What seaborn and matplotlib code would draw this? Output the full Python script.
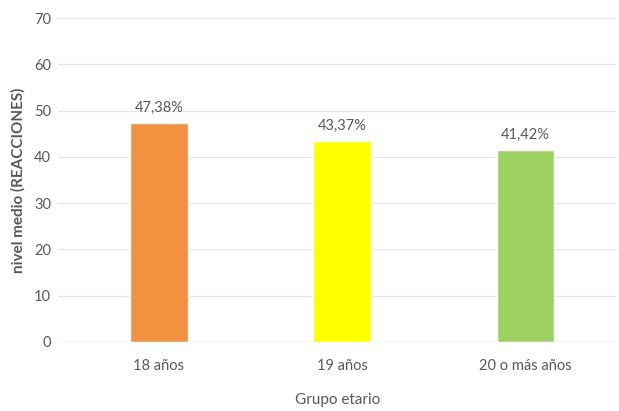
import matplotlib
matplotlib.use("Agg")
import matplotlib.pyplot as plt
import seaborn as sns
import pandas as pd

grupos = ["18 años", "19 años", "20 o más años"]
niveles = [47.38, 43.37, 41.42]
etiquetas = ["47,38%", "43,37%", "41,42%"]
colores = ["#F29240", "#FFFF00", "#9DD160"]
ticks_y = [0, 10, 20, 30, 40, 50, 60, 70]

sns.set_theme(style="white")
plt.rcParams["font.family"] = ["Lato", "DejaVu Sans"]

df = pd.DataFrame({"grupo": grupos, "nivel": niveles})

fig = plt.figure(figsize=(6.19, 4.11), dpi=100)
ax = fig.add_axes([0.094, 0.168, 0.903, 0.788])

sns.barplot(data=df, x="grupo", y="nivel", hue="grupo", palette=colores,
            width=0.316, legend=False, ax=ax, saturation=1)

ax.set_xlim(-0.55, 2.5)
ax.set_ylim(0, 70)
ax.set_yticks(ticks_y)
ax.yaxis.grid(True, color="#E6E6E6", linewidth=0.9)
ax.set_axisbelow(True)
for s in ax.spines.values():
    s.set_visible(False)
ax.axhline(0, color="#D9D9D9", linewidth=0.9, zorder=0.5)

gris = "#595959"
ax.tick_params(axis="both", length=0, colors=gris, labelsize=10.5)
ax.tick_params(axis="y", pad=5)
ax.tick_params(axis="x", pad=12)
ax.set_xlabel("Grupo etario", color=gris, fontsize=11, labelpad=15)
ax.set_ylabel("nivel medio (REACCIONES)", color=gris, fontsize=11,
              fontweight="bold", labelpad=6)

for i, (v, t) in enumerate(zip(niveles, etiquetas)):
    ax.annotate(t, (i, v), xytext=(0, 6), textcoords="offset points",
                ha="center", va="bottom", color=gris, fontsize=10.5)

fig.savefig("out.png", dpi=100)
